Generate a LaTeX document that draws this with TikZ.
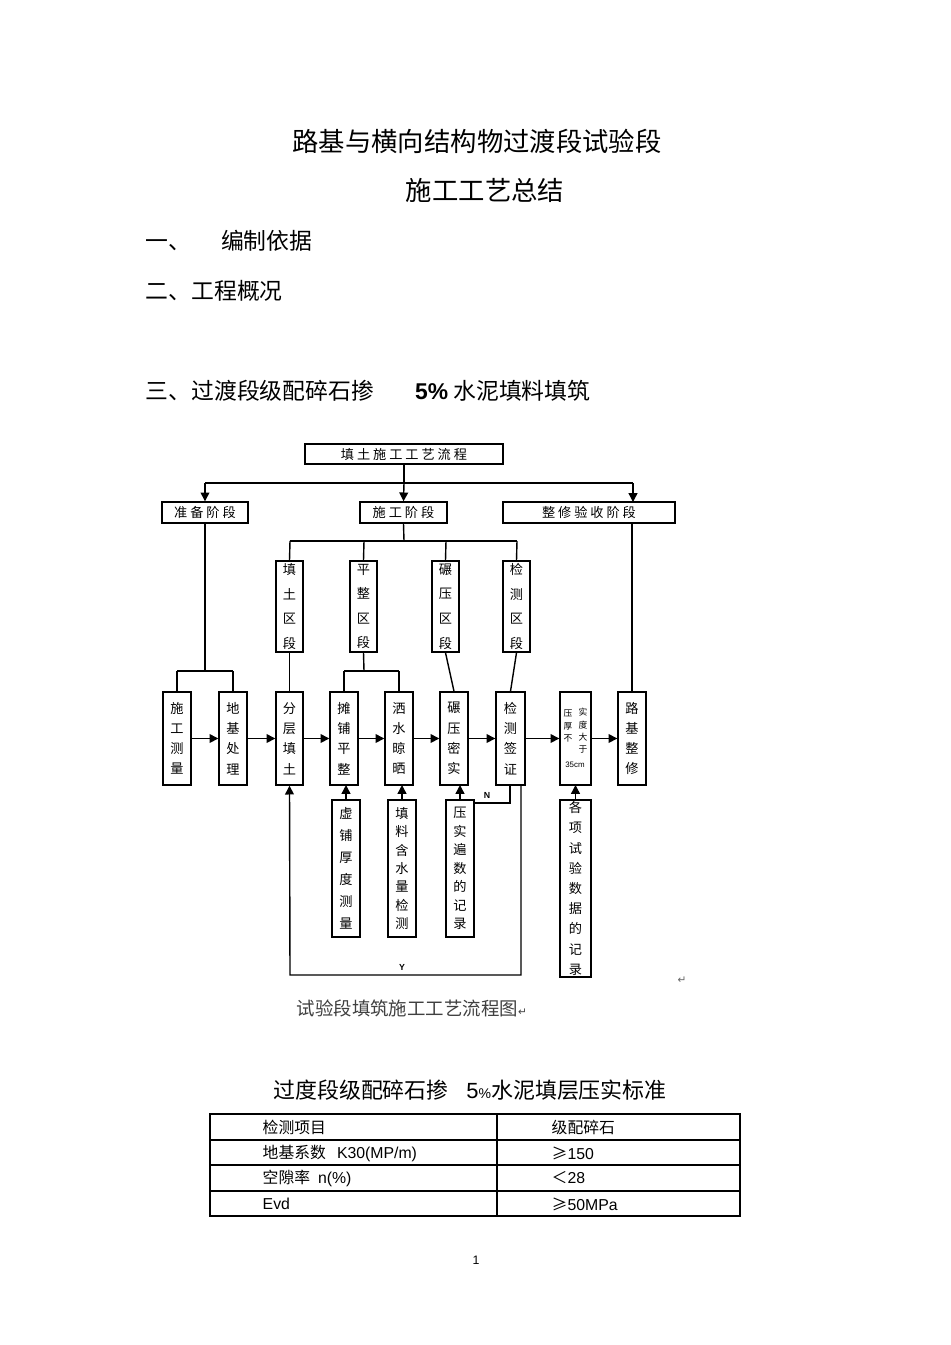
\documentclass[tikz,border=0pt]{standalone}
\usepackage{fontspec}
\setmainfont{Noto Sans CJK SC}
\newfontfamily\lat{Liberation Sans}
\newfontfamily\dv{DejaVu Sans}
\usetikzlibrary{arrows.meta}
\newcommand\bx[6]{\node[draw,line width=0.8pt,inner sep=0pt,minimum width={(#4-#2)*0.02cm},minimum height={(#5-#3)*0.02cm},align=center,font=\fontsize{7.5}{#6}\selectfont] (#1) at ({(#2+#4)/2},{(#3+#5)/2})}
\begin{document}
\begin{tikzpicture}[x=0.02cm,y=-0.02cm,line width=0.8pt,
  ar/.style={-{Triangle[length=5pt,width=5pt]}},
  tt/.style={inner sep=0pt,anchor=west}]
\useasboundingbox (0,0) rectangle (950,1345);
\fill[white] (0,0) rectangle (950,1345);
\node[font=\fontsize{15}{18}\selectfont] at (477,141) {路基与横向结构物过渡段试验段};
\node[font=\fontsize{15}{18}\selectfont] at (485,190) {施工工艺总结};
\node[tt,font=\fontsize{13}{16}\selectfont] at (145,241) {一、\hspace{1.3em}编制依据};
\node[tt,font=\fontsize{13}{16}\selectfont] at (145,291) {二、工程概况};
\node[tt,font=\fontsize{13}{16}\selectfont] at (145,391) {三、过渡段级配碎石掺\hspace{1.8em}{\lat\bfseries 5\%} 水泥填料填筑};
% flowchart
\bx{top}{305}{444}{503}{464}{9}{填\ 土\ 施\ 工\ 工\ 艺\ 流\ 程};
\bx{zb}{162}{502}{248}{523}{9}{准\ 备\ 阶\ 段};
\bx{sg}{360}{502}{447}{523}{9}{施\ 工\ 阶\ 段};
\bx{zx}{503}{502}{675}{523}{9}{整\ 修\ 验\ 收\ 阶\ 段};
\draw (top.south) -- (404,483);
\draw (205,483) -- (633,483);
\draw[ar] (205,483) -- (zb.north);
\draw[ar] (404,483) -- (sg.north);
\draw[ar] (633,483) -- (633,502);
\bx{a1}{276}{561}{303}{652}{14}{填\\土\\区\\段};
\bx{a2}{350}{561}{377}{652}{14}{平\\整\\区\\段};
\bx{a3}{432}{561}{459}{652}{14}{碾\\压\\区\\段};
\bx{a4}{503}{561}{530}{652}{14}{检\\测\\区\\段};
\draw (sg.south) -- (404,541);
\draw (290,541) -- (517,541);
\foreach \n/\x in {a1/290,a2/364,a3/446,a4/517} \draw (\x,541) -- (\n.north);
\bx{b1}{163}{692}{191}{785}{11.5}{施\\工\\测\\量};
\bx{b2}{219}{692}{247}{785}{11.5}{地\\基\\处\\理};
\bx{b3}{276}{692}{303}{785}{11.5}{分\\层\\填\\土};
\bx{b4}{330}{692}{358}{785}{11.5}{摊\\铺\\平\\整};
\bx{b5}{385}{692}{413}{785}{11.5}{洒\\水\\晾\\晒};
\bx{b6}{440}{692}{468}{785}{11.5}{碾\\压\\密\\实};
\bx{b7}{496}{692}{525}{785}{11.5}{检\\测\\签\\证};
\node[draw,inner sep=0pt,minimum width=31*0.02cm,minimum height=93*0.02cm] (b8) at (575.5,738.5) {};
\node[font=\fontsize{5}{7}\selectfont,align=center,inner sep=0pt] at (568,726) {压\\厚\\不};
\node[font=\fontsize{5}{7}\selectfont,align=center,inner sep=0pt] at (583,731) {实\\度\\大\\于};
\node[font=\lat\fontsize{4.5}{5}\selectfont,inner sep=0pt] at (575,765) {35cm};
\bx{b9}{618}{692}{646}{785}{11.5}{路\\基\\整\\修};
\draw (zb.south) -- (205,671);
\draw (177,671) -- (233,671);
\draw (177,671) -- (177,692) (233,671) -- (233,692);
\draw (a1.south) -- (b3.north);
\draw (a2.south) -- (364,671);
\draw (344,671) -- (399,671);
\draw (344,671) -- (344,692) (399,671) -- (399,692);
\draw (a3.south) -- (b6.north);
\draw (a4.south) -- (b7.north);
\draw (632,523) -- (b9.north);
\foreach \a/\b in {b1/b2,b2/b3,b3/b4,b4/b5,b5/b6,b6/b7,b7/b8,b8/b9} \draw[ar] (\a.east) -- (\b.west);
\bx{c1}{332}{800}{360}{937}{12.5}{虚\\铺\\厚\\度\\测\\量};
\bx{c2}{388}{800}{416}{937}{10.5}{填\\料\\含\\水\\量\\检\\测};
\bx{c3}{446}{800}{474}{937}{10.5}{压\\实\\遍\\数\\的\\记\\录};
\bx{c4}{560}{800}{591}{977}{11.5}{各\\项\\试\\验\\数\\据\\的\\记\\录};
\draw[ar] (c1.north) -- (346,785);
\draw[ar] (c2.north) -- (402,785);
\draw[ar] (c3.north) -- (460,785);
\draw[ar] (c4.north) -- (575.5,785);
\draw (510,785) -- (510,803) -- (474,803);
\node[font=\lat\bfseries\fontsize{5}{6}\selectfont] at (487,795) {N};
\draw[ar] (521,785) -- (521,975) -- (290,975) -- (b3.south);
\node[font=\lat\bfseries\fontsize{5}{6}\selectfont] at (402,967) {Y};
\node[font=\fontsize{10.5}{13}\selectfont,text=black!75,anchor=west,inner sep=0pt] at (296,1008) {试验段填筑施工工艺流程图{\dv\fontsize{6}{8}\selectfont ↵}};
\node[font=\dv\fontsize{6}{8}\selectfont,text=black!60] at (682,980) {↵};
% table
\node[font=\fontsize{12.5}{15}\selectfont] at (470,1090) {过度段级配碎石掺\hspace{0.8em}{\lat 5\fontsize{8}{10}\selectfont\%}水泥填层压实标准};
\draw[line width=0.6pt] (210,1114) rectangle (740,1216);
\foreach \y in {1140,1165,1191} \draw[line width=0.6pt] (210,\y) -- (740,\y);
\draw[line width=0.6pt] (497,1114) -- (497,1216);
\begin{scope}[every node/.style={tt,font=\fontsize{9}{11}\selectfont}]
\node at (262,1127) {检测项目};
\node at (551,1127) {级配碎石};
\node at (262,1153) {地基系数\hspace{0.7em}{\lat K30(MP/m)}};
\node at (551,1153) {≥{\lat 150}};
\node at (262,1178) {空隙率\hspace{0.5em}{\lat n(\%)}};
\node at (551,1178) {＜{\lat 28}};
\node at (262,1204) {\lat Evd};
\node at (551,1204) {≥{\lat 50MPa}};
\end{scope}
\node[font=\lat\fontsize{7}{9}\selectfont] at (476,1260) {1};
\end{tikzpicture}
\end{document}
